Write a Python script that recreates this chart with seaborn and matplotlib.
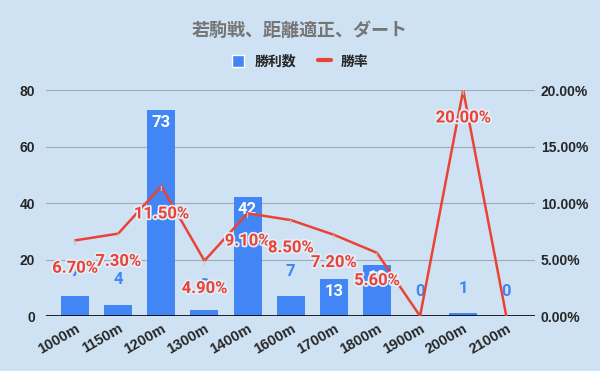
import matplotlib
matplotlib.use('Agg')
import matplotlib.pyplot as plt
import matplotlib.patheffects as pe
from matplotlib.ticker import PercentFormatter
from matplotlib.patches import Patch
from matplotlib.lines import Line2D
import pandas as pd
import seaborn as sns

distances = ['1000m', '1150m', '1200m', '1300m', '1400m', '1600m', '1700m', '1800m', '1900m', '2000m', '2100m']
wins = [7, 4, 73, 2, 42, 7, 13, 18, 0, 1, 0]
win_rate = [6.7, 7.3, 11.5, 4.9, 9.1, 8.5, 7.2, 5.6, 0.0, 20.0, 0.0]

df = pd.DataFrame({'距離': distances, '勝利数': wins, '勝率': [r / 100 for r in win_rate]})
df['pos'] = range(len(df))

sns.set_style('white')
plt.rcParams['font.family'] = ['Noto Sans CJK JP', 'DejaVu Sans']

bg = '#cfe2f3'
blue = '#4285f4'
red = '#ea4335'
grid_c = '#a0aab4'
num_font = ['Roboto', 'DejaVu Sans']
tick_font = ['Liberation Sans', 'DejaVu Sans']

fig = plt.figure(figsize=(6, 3.71), dpi=100, facecolor=bg)
ax = fig.add_axes([0.077, 0.148, 0.815, 0.609])
ax.set_facecolor(bg)

sns.barplot(data=df, x='pos', y='勝利数', color=blue, width=0.65, saturation=1,
            linewidth=0, edgecolor=blue, ax=ax, native_scale=True)
ax.set_xlim(-0.67, 10.67)
ax.set_ylim(0, 80)
ax.set_yticks([0, 20, 40, 60, 80])
ax.set_xticks(df['pos'])
ax.set_xticklabels(distances, rotation=30, ha='right', rotation_mode='anchor',
                   fontsize=10.5, fontweight='bold', family=tick_font)
for lbl in ax.get_yticklabels():
    lbl.set_fontweight('bold')
    lbl.set_family(tick_font)
ax.tick_params(axis='y', labelsize=10, length=0, pad=8)
ax.tick_params(axis='x', length=0, pad=4)
ax.grid(axis='y', color=grid_c, lw=0.8)
ax.set_axisbelow(True)
for s in ax.spines.values():
    s.set_visible(False)
ax.axhline(0, color='black', lw=1.2, zorder=3)
ax.set_xlabel('')
ax.set_ylabel('')

# bar labels
for i, v in enumerate(wins):
    if v >= 10:
        ax.annotate(str(v), (i, v), xytext=(0, -9), textcoords='offset points',
                    ha='center', va='center', color='white', fontsize=12, fontweight='bold',
                    family=num_font, zorder=5)
    else:
        ax.annotate(str(v), (i, v), xytext=(0, 18), textcoords='offset points',
                    ha='center', va='center', color=blue, fontsize=12, fontweight='bold',
                    family=num_font, zorder=2)

ax2 = ax.twinx()
sns.lineplot(data=df, x='pos', y='勝率', color=red, lw=1.8, ax=ax2)
ax2.set_ylim(0, 0.2)
ax2.set_yticks([0, 0.05, 0.10, 0.15, 0.20])
ax2.yaxis.set_major_formatter(PercentFormatter(1.0, decimals=2))
for lbl in ax2.get_yticklabels():
    lbl.set_fontweight('bold')
    lbl.set_family(tick_font)
ax2.tick_params(axis='y', labelsize=10, length=0, pad=4)
for s in ax2.spines.values():
    s.set_visible(False)
ax2.set_xlabel('')
ax2.set_ylabel('')

halo = [pe.withStroke(linewidth=2.5, foreground='#e4eef8')]
for i, r in enumerate(win_rate):
    if r == 0:
        continue
    ax2.annotate(f'{r:.2f}%', (i, r / 100), xytext=(0, -20), textcoords='offset points',
                 ha='center', va='center', color=red, fontsize=12, fontweight='bold',
                 family=num_font, path_effects=halo, zorder=6,
                 arrowprops=dict(arrowstyle='-', color='#c4ccd4', lw=0.8, shrinkA=9, shrinkB=0))

fig.text(0.5, 0.919, '若駒戦、距離適正、ダート', ha='center', va='center',
         fontsize=13, fontweight='bold', color='#757575')

handles = [Patch(facecolor=blue, label='勝利数'), Line2D([0], [0], color=red, lw=3, label='勝率')]
fig.legend(handles=handles, loc='center', bbox_to_anchor=(0.5, 0.833), ncol=2, frameon=False,
           handlelength=0.9, handleheight=1.0, columnspacing=1.6, handletextpad=0.7,
           prop={'weight': 'bold', 'size': 10})

fig.savefig('out.png', dpi=100, facecolor=bg)
